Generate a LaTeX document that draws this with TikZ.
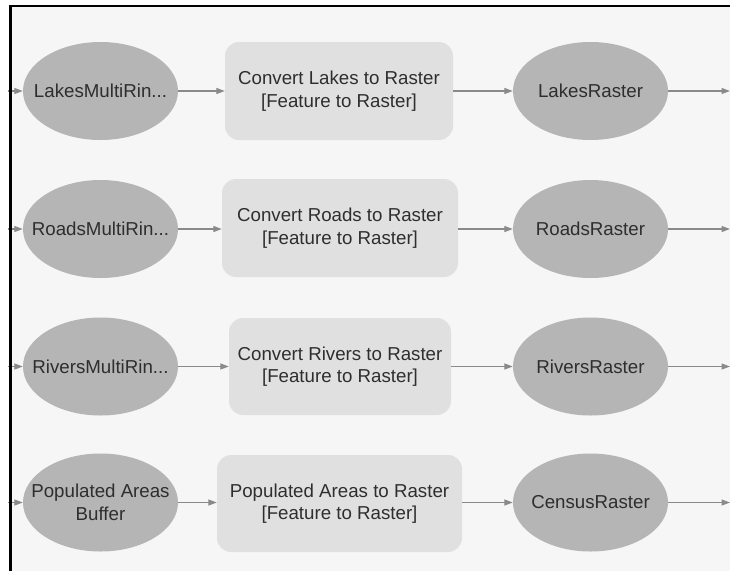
\documentclass[tikz,border=0pt]{standalone}
\usepackage{fontspec}
\setmainfont{Liberation Sans}
\usetikzlibrary{shapes.geometric,arrows.meta}
\definecolor{bg}{HTML}{F6F6F6}
\definecolor{ellfill}{HTML}{B5B5B5}
\definecolor{boxfill}{HTML}{E0E0E0}
\definecolor{txt}{HTML}{2E2E2E}
\definecolor{arr}{HTML}{8A8A8A}
\begin{document}
\begin{tikzpicture}[x=1pt,y=-1pt,
  lbl/.style={text=txt, font=\fontsize{18.7}{22.5}\selectfont, align=center, inner sep=0pt},
  ell/.style={ellipse, fill=ellfill, minimum width=155pt, minimum height=98pt, inner sep=0pt},
  tool/.style={lbl, rectangle, rounded corners=14pt, fill=boxfill},
  flow/.style={draw=arr, line width=1.3pt, -{Triangle[length=8.5pt,width=6pt]}}]
\useasboundingbox (0,0) rectangle (730,571);
\fill[white] (0,0) rectangle (730,571);
\fill[bg] (11,6) rectangle (730,571);

% row 1
\node[ell, label={[lbl]center:LakesMultiRin...}] (e1) at (100.5,91) {};
\node[tool, minimum width=228pt, minimum height=98pt] (t1) at (339,91) {Convert Lakes to Raster\\{[Feature to Raster]}};
\node[ell, label={[lbl]center:LakesRaster}] (r1) at (590.5,91) {};
% row 2
\node[ell, label={[lbl]center:RoadsMultiRin...}] (e2) at (100.5,229) {};
\node[tool, minimum width=236pt, minimum height=98pt] (t2) at (340,228) {Convert Roads to Raster\\{[Feature to Raster]}};
\node[ell, label={[lbl]center:RoadsRaster}] (r2) at (590.5,229) {};
% row 3
\node[ell, label={[lbl]center:RiversMultiRin...}] (e3) at (100.5,366.5) {};
\node[tool, minimum width=222pt, minimum height=97pt] (t3) at (340,366.5) {Convert Rivers to Raster\\{[Feature to Raster]}};
\node[ell, label={[lbl]center:RiversRaster}] (r3) at (590.5,366.5) {};
% row 4
\node[ell, label={[lbl]center:Populated Areas\\Buffer}] (e4) at (100.5,502.5) {};
\node[tool, minimum width=245pt, minimum height=97pt] (t4) at (339.5,503.5) {Populated Areas to Raster\\{[Feature to Raster]}};
\node[ell, label={[lbl]center:CensusRaster}] (r4) at (590.5,502.5) {};

\foreach \i/\y in {1/91,2/229,3/366.5,4/502.5}{
  \coordinate (in\i) at (8,\y);
  \coordinate (out\i) at (730,\y);
  \draw[flow] (in\i) -- (e\i.west);
  \draw[flow] (e\i.east) -- (t\i.west |- e\i.east);
  \draw[flow] (t\i.east |- r\i.west) -- (r\i.west);
  \draw[flow] (r\i.east) -- (out\i);
}

\draw[black, line width=2.5pt] (10.6,571) -- (10.6,6) -- (730,6);
\end{tikzpicture}
\end{document}
